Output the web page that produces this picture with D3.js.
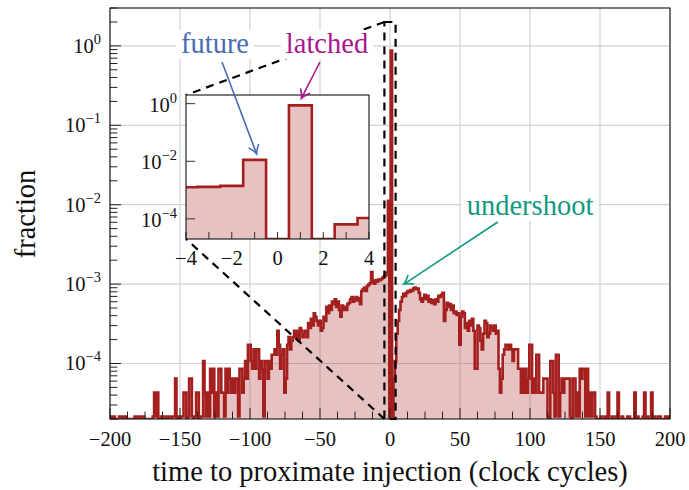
<!DOCTYPE html>
<html><head><meta charset="utf-8">
<script src="https://cdn.jsdelivr.net/npm/d3@7"></script>
<style>
body{margin:0;background:#fff}
svg{display:block}
text{font-family:"Liberation Serif","Times New Roman",serif;fill:#111}
</style>
</head><body>
<svg id="c" width="689" height="490"></svg>
<script>
// ---------------- data ----------------
const binStart = -200;            // bin centres -200 .. 200, width 1 clock cycle
const counts = [
  0,1,0,1,0,0,0,1,1,0,   // -200..-191
  1,1,0,0,0,0,0,0,1,0,   // -190..-181
  1,1,0,1,1,0,0,0,0,0,   // -180..-171
  0,1,2,1,2,0,0,1,0,0,   // -170..-161
  1,0,1,1,0,1,1,3,0,1,   // -160..-151
  0,1,1,2,2,0,1,3,3,1,   // -150..-141
  0,1,2,2,0,1,1,5,2,1,   // -140..-131
  2,1,4,2,4,1,2,1,4,4,   // -130..-121
  2,2,1,4,2,4,3,2,3,2,   // -120..-111
  3,3,1,4,4,2,3,5,3,8,   // -110..-101
  8,5,4,7,4,7,7,3,5,4,   // -100..-91
  1,5,5,3,5,4,6,6,7,6,   // -90..-81
  12,8,4,6,7,2,3,8,10,7, // -80..-71
  9,10,12,10,12,9,13,12,10,11,   // -70..-61
  12,10,15,13,17,14,20,18,16,14, // -60..-51
  16,12,13,18,16,24,20,25,22,28, // -50..-41
  26,30,24,28,22,18,25,22,24,22, // -40..-31
  26,27,30,32,28,30,32,29,31,26, // -30..-21
  38,40,42,38,44,46,48,66,50,47, // -20..-11
  52,50,53,52,54,56,58,60,65,521,// -10..-1
  0,40700,0,3,5,11,16,22,28,32,  // 0..9
  35,33,36,38,37,39,38,41,42,40, // 10..19
  41,36,30,28,31,34,30,33,28,30, // 20..29
  27,29,26,30,28,33,32,34,36,16, // 30..39
  22,27,24,26,22,25,20,21,19,20, // 40..49
  8,18,21,20,13,15,12,16,14,17,  // 50..59
  12,4,4,14,13,9,7,11,16,15,     // 60..69
  10,11,14,13,12,14,11,12,4,2,   // 70..79
  3,6,7,8,8,7,8,7,5,7,           // 80..89
  7,7,4,4,2,4,2,4,2,3,           // 90..99
  8,8,2,3,2,6,6,2,2,2,           // 100..109
  3,3,3,1,0,5,5,2,1,6,           // 110..119
  6,1,2,3,2,3,3,3,3,1,           // 120..129
  0,3,3,1,2,1,4,3,4,4,           // 130..139
  1,4,1,2,1,2,2,1,0,0,           // 140..149
  0,1,0,0,1,0,2,0,0,1,           // 150..159
  0,0,1,2,0,0,1,0,0,0,           // 160..169
  1,1,0,0,0,2,0,1,0,0,           // 170..179
  0,1,2,0,1,0,0,2,0,1,           // 180..189
  0,0,1,1,0,0,0,1,0,1,           // 190..199
  0                              // 200
];
const totalInjections = 46500;

const xTicks = [-200,-150,-100,-50,0,50,100,150,200];
const yTickExps = [-4,-3,-2,-1,0];
const insetXTicks = [-4,-2,0,2,4];
const insetYTickExps = [-4,-2,0];
const zoomRange = [-4,4];

const annotations = [
  {text:"future",     color:"#4a6bb3"},
  {text:"latched",    color:"#a8178c"},
  {text:"undershoot", color:"#13997f"}
];

// ---------------- layout ----------------
const LINE = "#a3201f";
const svg = d3.select("#c");
const P = {l:110, r:670, t:8, b:419};
const x = d3.scaleLinear().domain([-200,200]).range([P.l,P.r]);
const y = d3.scaleLog().domain([2e-5,3]).range([P.b,P.t]);
const I = {l:186, r:369, t:95, b:239};
const ix = d3.scaleLinear().domain(zoomRange).range([I.l,I.r]);
const iy = d3.scaleLog().domain([2e-5,2]).range([I.b,I.t]);

const bins = counts.map((c,i)=>({x:binStart+i, v:c/totalInjections}));
const stepPts = bins.flatMap(b=>[[b.x-0.5,b.v],[b.x+0.5,b.v]]);

const defs = svg.append("defs");
defs.append("clipPath").attr("id","clipMain").append("rect")
  .attr("x",P.l).attr("y",P.t).attr("width",P.r-P.l).attr("height",P.b-P.t);
defs.append("clipPath").attr("id","clipInset").append("rect")
  .attr("x",I.l).attr("y",I.t).attr("width",I.r-I.l).attr("height",I.b-I.t);

// grid
const grid = svg.append("g").attr("stroke","#d2d2d2").attr("stroke-width",1.2);
grid.selectAll("line.gx").data(xTicks).join("line")
  .attr("x1",d=>x(d)).attr("x2",d=>x(d)).attr("y1",P.t).attr("y2",P.b);
grid.selectAll("line.gy").data(yTickExps).join("line")
  .attr("y1",d=>y(Math.pow(10,d))).attr("y2",d=>y(Math.pow(10,d))).attr("x1",P.l).attr("x2",P.r);

function drawHist(g, sx, sy, clipId, lw){
  const bottom = sy.range()[0];
  const yy = v => v>0 ? sy(v) : bottom;
  const area = d3.area().x(d=>sx(d[0])).y0(bottom).y1(d=>yy(d[1]));
  const line = d3.line().x(d=>sx(d[0])).y(d=>yy(d[1]));
  const gg = g.append("g").attr("clip-path",`url(#${clipId})`);
  gg.append("path").attr("d",area(stepPts)).attr("fill",LINE).attr("fill-opacity",0.27);
  gg.append("path").attr("d",line(stepPts)).attr("fill","none").attr("stroke",LINE)
    .attr("stroke-width",lw).attr("stroke-linejoin","miter");
}
drawHist(svg, x, y, "clipMain", 2.6);

// ticks main
const tk = svg.append("g").attr("stroke","#222").attr("stroke-width",1);
const xMinor = d3.range(-200,200.01,12.5).filter(v=>v%50!==0);
tk.selectAll("line.xm").data(xTicks).join("line")
  .attr("x1",d=>x(d)).attr("x2",d=>x(d)).attr("y1",P.b).attr("y2",P.b-11);
tk.selectAll("line.xn").data(xMinor).join("line")
  .attr("x1",d=>x(d)).attr("x2",d=>x(d)).attr("y1",P.b).attr("y2",P.b-7.4);
tk.selectAll("line.ym").data(yTickExps).join("line")
  .attr("y1",d=>y(Math.pow(10,d))).attr("y2",d=>y(Math.pow(10,d))).attr("x1",P.l).attr("x2",P.l+11);
const yMinor = [];
for(let e=-5;e<=0;e++) for(let k=2;k<=9;k++){const v=k*Math.pow(10,e); if(v>=2e-5&&v<=3) yMinor.push(v);}
tk.selectAll("line.yn").data(yMinor).join("line")
  .attr("y1",d=>y(d)).attr("y2",d=>y(d)).attr("x1",P.l).attr("x2",P.l+7.4);

// frame
svg.append("rect").attr("x",P.l).attr("y",P.t).attr("width",P.r-P.l).attr("height",P.b-P.t)
  .attr("fill","none").attr("stroke","#111").attr("stroke-width",1.1);

// tick labels main
const fmtNum = d => (d<0?"\u2212":"")+Math.abs(d);
svg.append("g").selectAll("text").data(xTicks).join("text")
  .attr("x",d=>x(d)).attr("y",446).attr("text-anchor","middle").attr("font-size",20.5)
  .text(fmtNum);
function powLabel(sel, fs, sfs){
  sel.each(function(e){
    const t=d3.select(this);
    t.append("tspan").text("10");
    t.append("tspan").attr("dy",-9).attr("font-size",sfs).text(fmtNum(e));
  });
}
svg.append("g").selectAll("text").data(yTickExps).join("text")
  .attr("x",101).attr("y",d=>y(Math.pow(10,d))+7).attr("text-anchor","end").attr("font-size",20.5)
  .call(powLabel,20.5,14.5);

// axis labels
svg.append("text").attr("x",(P.l+P.r)/2).attr("y",481).attr("text-anchor","middle")
  .attr("font-size",28.5).text("time to proximate injection (clock cycles)");
svg.append("text").attr("transform","translate(35,214) rotate(-90)").attr("text-anchor","middle")
  .attr("font-size",28.5).text("fraction");

// zoom rectangle + connectors
const dash = svg.append("g").attr("stroke","#000").attr("stroke-width",2.2)
  .attr("stroke-dasharray","8,6").attr("fill","none");
dash.append("rect").attr("x",x(zoomRange[0])).attr("y",y(2)).attr("width",x(zoomRange[1])-x(zoomRange[0]))
  .attr("height",y(2e-5)-y(2));
dash.append("line").attr("x1",x(zoomRange[0])).attr("y1",y(2)).attr("x2",I.l).attr("y2",I.t);
dash.append("line").attr("x1",x(zoomRange[0])).attr("y1",y(2e-5)).attr("x2",I.l).attr("y2",I.b);

// inset
const ins = svg.append("g");
ins.append("rect").attr("x",I.l).attr("y",I.t).attr("width",I.r-I.l).attr("height",I.b-I.t).attr("fill","#fff");
drawHist(ins, ix, iy, "clipInset", 2.6);
const itk = ins.append("g").attr("stroke","#333").attr("stroke-width",1);
itk.selectAll("line.a").data(d3.range(-4,4.01,1)).join("line")
  .attr("x1",d=>ix(d)).attr("x2",d=>ix(d)).attr("y1",I.b).attr("y2",I.b-7);
itk.selectAll("line.b").data(insetYTickExps).join("line")
  .attr("y1",d=>iy(Math.pow(10,d))).attr("y2",d=>iy(Math.pow(10,d))).attr("x1",I.l).attr("x2",I.l+9);
ins.append("rect").attr("x",I.l).attr("y",I.t).attr("width",I.r-I.l).attr("height",I.b-I.t)
  .attr("fill","none").attr("stroke","#111").attr("stroke-width",1.1);
ins.append("g").selectAll("text").data(insetXTicks).join("text")
  .attr("x",d=>ix(d)).attr("y",265).attr("text-anchor","middle").attr("font-size",20.5).text(fmtNum);
ins.append("g").selectAll("text").data(insetYTickExps).join("text")
  .attr("x",177).attr("y",d=>iy(Math.pow(10,d))+8).attr("text-anchor","end").attr("font-size",20.5)
  .call(powLabel,20.5,14.5);

// annotations
const vAt = xv => bins.find(b=>b.x===xv).v;
const annPos = [
  {tx:x(-125), ty:53, from:[x(-120),62], to:[ix(-1)+2, iy(vAt(-1))-6]},
  {tx:x(-45),  ty:53, from:[x(-50),62],  to:[ix(1)+1, iy(vAt(1))-7]},
  {tx:x(100),  ty:215, from:[x(77),222], to:[x(10), y(1e-3)]}
];
annotations.forEach((a,i)=>{
  const p = annPos[i];
  const g = svg.append("g");
  // arrow
  const [x1,y1]=p.from, [x2,y2]=p.to;
  g.append("line").attr("x1",x1).attr("y1",y1).attr("x2",x2).attr("y2",y2)
    .attr("stroke",a.color).attr("stroke-width",1.6);
  const ang = Math.atan2(y2-y1,x2-x1)*180/Math.PI;
  g.append("path").attr("d","M-8,-5 Q-3,-1 0,0 Q-3,1 -8,5")
    .attr("transform",`translate(${x2},${y2}) rotate(${ang})`)
    .attr("fill","none").attr("stroke",a.color).attr("stroke-width",1.6).attr("stroke-linecap","round");
  const t = g.append("text").attr("x",p.tx).attr("y",p.ty).attr("text-anchor","middle")
    .attr("font-size",28.5).style("fill",a.color).text(a.text);
  const bb = t.node().getBBox();
  g.insert("rect","text").attr("x",bb.x-5).attr("y",bb.y+2).attr("width",bb.width+10).attr("height",bb.height-2)
    .attr("fill","#fff");
});
</script>
</body></html>
